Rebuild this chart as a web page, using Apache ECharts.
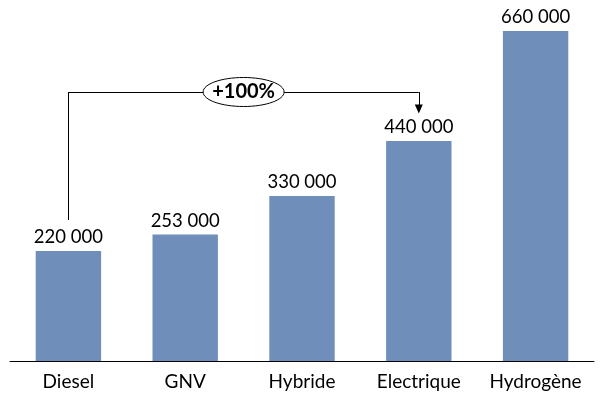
<!DOCTYPE html>
<html>
<head>
<meta charset="utf-8">
<script src="https://cdn.jsdelivr.net/npm/echarts@6/dist/echarts.min.js"></script>
<style>
  html, body { margin: 0; padding: 0; background: #fff; }
  #chart { width: 613px; height: 399px; }
</style>
</head>
<body>
<div id="chart"></div>
<script>
var categories = ['Diesel', 'GNV', 'Hybride', 'Electrique', 'Hydrogène'];
var values = [220000, 253000, 330000, 440000, 660000];
// bracket annotation: from Diesel to Electrique
var bracketFrom = 'Diesel';
var bracketTo = 'Electrique';
var bracketStart = 282000;
var bracketLevel = 538000;
var bracketEnd = 504000;
var bracketText = '+100%';

function fmt(v) {
  return String(v).replace(/\B(?=(\d{3})+(?!\d))/g, ' ');
}

var chart = echarts.init(document.getElementById('chart'));
var font = 'Lato';
chart.setOption({
  animation: false,
  backgroundColor: '#fff',
  grid: { left: 10, right: 19, top: 11, bottom: 38 },
  xAxis: {
    type: 'category',
    data: categories,
    axisLine: { lineStyle: { color: '#000', width: 1 } },
    axisTick: { show: false },
    axisLabel: { interval: 0, hideOverlap: false, color: '#000', fontSize: 19, fontFamily: font, margin: 11 }
  },
  yAxis: {
    type: 'value',
    min: 0,
    max: 700000,
    show: false
  },
  series: [{
    type: 'bar',
    data: values,
    barCategoryGap: '44%',
    itemStyle: { color: '#6F8FBA' },
    label: {
      show: true,
      position: 'top',
      distance: 4,
      color: '#000',
      fontSize: 18.5,
      fontFamily: font,
      formatter: function(p) { return fmt(p.value); }
    },
    markLine: {
      silent: true,
      symbol: 'none',
      label: { show: false },
      lineStyle: { color: '#000', width: 1, type: 'solid' },
      data: [
        [{ coord: [bracketFrom, bracketStart] }, { coord: [bracketFrom, bracketLevel] }],
        [{ coord: [bracketFrom, bracketLevel] }, { coord: [bracketTo, bracketLevel] }],
        [{ coord: [bracketTo, bracketLevel] }, { coord: [bracketTo, bracketEnd], symbol: 'triangle', symbolSize: [8, 9], symbolRotate: 180 }]
      ]
    }
  }]
});

// ellipse label in the middle of the bracket
var p1 = chart.convertToPixel({ seriesIndex: 0 }, [bracketFrom, bracketLevel]);
var p2 = chart.convertToPixel({ seriesIndex: 0 }, [bracketTo, bracketLevel]);
var cx = (p1[0] + p2[0]) / 2;
chart.setOption({
  graphic: [{
    type: 'ellipse',
    shape: { cx: cx, cy: p1[1], rx: 40.5, ry: 14.5 },
    style: { fill: '#fff', stroke: '#000', lineWidth: 1 },
    z: 10
  }, {
    type: 'text',
    x: cx,
    y: p1[1],
    style: {
      text: bracketText,
      fill: '#000',
      font: 'bold 20px ' + font,
      align: 'center',
      verticalAlign: 'middle'
    },
    z: 11
  }]
});
</script>
</body>
</html>
